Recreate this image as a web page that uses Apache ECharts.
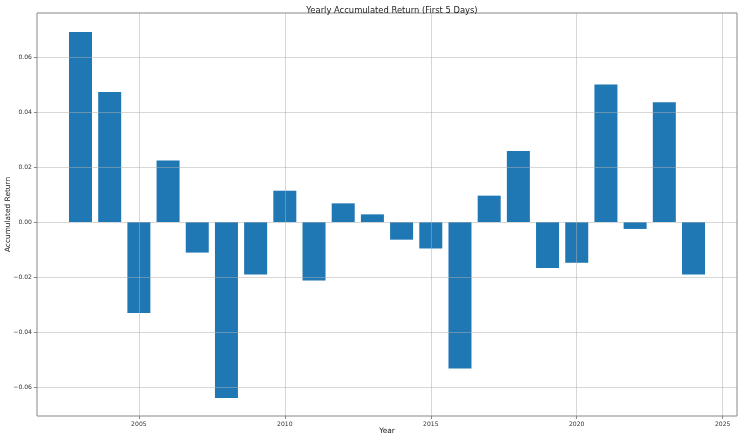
<!DOCTYPE html>
<html>
<head>
<meta charset="utf-8">
<script src="https://cdn.jsdelivr.net/npm/echarts@6/dist/echarts.min.js"></script>
<style>html,body{margin:0;padding:0;background:#fff}#c{width:740px;height:440px}</style>
</head>
<body>
<div id="c"></div>
<script>
const years = [2003,2004,2005,2006,2007,2008,2009,2010,2011,2012,2013,2014,2015,2016,2017,2018,2019,2020,2021,2022,2023,2024];
const returns = [0.0691,0.0473,-0.0331,0.0224,-0.0111,-0.0640,-0.0191,0.0114,-0.0212,0.0068,0.0028,-0.0064,-0.0096,-0.0532,0.0096,0.0258,-0.0167,-0.0148,0.0500,-0.0025,0.0436,-0.0191];
const xTicks = [2005,2010,2015,2020,2025];
const yTicks = [-0.06,-0.04,-0.02,0.00,0.02,0.04,0.06];
const titleText = 'Yearly Accumulated Return (First 5 Days)';
const xLabel = 'Year';
const yLabel = 'Accumulated Return';

const chart = echarts.init(document.getElementById('c'), null, {renderer:'canvas'});
const font = 'DejaVu Sans';
const gridColor = 'rgba(176,176,176,0.5)';
const fmtY = v => (v < 0 ? '\u2212' : '') + Math.abs(v).toFixed(2);

chart.setOption({
  animation: false,
  backgroundColor: '#fff',
  title: {
    text: titleText, left: 387, top: 2, textAlign: 'center',
    textStyle: {fontFamily: font, fontSize: 8.4, fontWeight: 'normal', color: '#222'}
  },
  grid: {left: 37, right: 3, top: 13, bottom: 24, outerBoundsMode: 'none', containLabel: false,
         show: true, borderColor: '#888', borderWidth: 1, backgroundColor: 'transparent', z: 5},
  xAxis: {
    type: 'value', min: 2001.51, max: 2025.49, z: 3,
    name: xLabel, nameLocation: 'middle', nameGap: 15, nameMoveOverlap: false,
    nameTextStyle: {fontFamily: font, fontSize: 7.4, color: '#222', verticalAlign: 'middle'},
    axisLine: {show: false, onZero: false},
    axisTick: {show: true, length: 3, customValues: xTicks, lineStyle: {color: '#888'}},
    axisLabel: {customValues: xTicks, fontFamily: font, fontSize: 6.1, color: '#333', margin: 5, formatter: v => String(v)},
    splitLine: {show: true, lineStyle: {color: gridColor, width: 1}}
  },
  yAxis: {
    type: 'value', min: -0.0705, max: 0.076, z: 3,
    name: yLabel, nameLocation: 'middle', nameGap: 29, nameRotate: 90, nameMoveOverlap: false,
    nameTextStyle: {fontFamily: font, fontSize: 7.4, color: '#222', verticalAlign: 'middle'},
    axisLine: {show: false, onZero: false},
    axisTick: {show: true, length: 3, customValues: yTicks, lineStyle: {color: '#888'}},
    axisLabel: {customValues: yTicks, fontFamily: font, fontSize: 6.1, color: '#333', margin: 5, formatter: fmtY},
    splitLine: {show: true, lineStyle: {color: gridColor, width: 1}}
  },
  series: [{
    type: 'bar',
    data: years.map((y, i) => [y, returns[i]]),
    barWidth: 23,
    itemStyle: {color: '#1f77b4'},
    z: 2
  }]
});
</script>
</body>
</html>
